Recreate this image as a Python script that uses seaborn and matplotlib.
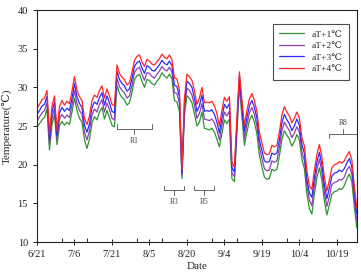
import pandas as pd
import matplotlib
matplotlib.use("Agg")
import matplotlib.pyplot as plt
import seaborn as sns

# --- data: daily temperatures, starting 6/21 ---
start_date = "2021-06-21"

t_plus1 = [24.9, 25.3, 25.8, 26.1, 27.2, 21.9, 25.2, 26.5, 22.6, 25.0,
           25.6, 25.1, 25.5, 25.2, 26.8, 28.6, 27.0, 26.0, 25.5, 23.2,
           22.1, 23.3, 25.4, 26.2, 25.8, 26.8, 27.4, 25.9, 27.0, 26.1,
           25.1, 24.9, 30.3, 29.2, 28.7, 28.4, 27.7, 28.0, 29.3, 31.0,
           31.5, 31.7, 30.8, 30.0, 31.0, 30.9, 30.5, 30.3, 30.8, 31.2,
           31.9, 31.5, 31.2, 31.7, 31.1, 28.3, 28.1, 26.9, 18.2, 26.4,
           28.9, 28.6, 28.0, 26.6, 25.0, 25.5, 26.8, 24.7, 24.6, 24.5,
           24.7, 24.2, 23.3, 22.3, 24.0, 25.8, 25.3, 25.9, 18.2, 17.8,
           24.2, 30.3, 26.2, 22.5, 24.2, 25.7, 26.4, 25.5, 24.0, 21.2,
           19.7, 18.4, 18.1, 18.2, 19.4, 19.2, 19.4, 21.1, 23.3, 24.4,
           23.8, 23.3, 22.4, 23.0, 23.9, 23.2, 20.7, 19.5, 16.2, 14.3,
           13.6, 16.2, 18.3, 19.6, 18.0, 15.3, 13.5, 14.8, 16.2, 16.5,
           16.6, 16.9, 16.8, 17.3, 18.2, 18.8, 17.8, 14.5, 11.8]

t_plus2 = [25.7, 26.2, 26.7, 27.0, 28.0, 22.6, 26.0, 27.3, 23.2, 25.9,
           26.5, 26.0, 26.4, 26.1, 27.7, 29.6, 27.9, 27.0, 26.5, 24.2,
           23.2, 24.4, 26.4, 27.2, 26.8, 27.8, 28.4, 26.8, 28.0, 27.1,
           26.0, 25.8, 31.2, 30.1, 29.6, 29.3, 28.6, 28.9, 30.2, 31.9,
           32.4, 32.6, 31.7, 30.9, 31.9, 31.8, 31.4, 31.2, 31.7, 32.1,
           32.7, 32.3, 32.1, 32.6, 32.0, 29.3, 29.2, 27.9, 18.6, 27.1,
           29.9, 29.6, 29.0, 27.7, 26.0, 26.6, 27.9, 25.9, 25.8, 25.7,
           25.9, 25.4, 24.5, 23.2, 25.1, 26.8, 26.3, 26.9, 18.9, 18.5,
           24.8, 30.9, 27.0, 23.4, 25.2, 26.7, 27.4, 26.5, 25.0, 22.3,
           20.8, 19.5, 19.2, 19.3, 20.5, 20.3, 20.5, 22.2, 24.4, 25.5,
           24.9, 24.4, 23.5, 24.1, 24.9, 24.2, 21.7, 20.5, 17.3, 15.4,
           14.7, 17.3, 19.4, 20.7, 19.1, 16.4, 14.6, 15.9, 17.4, 17.7,
           17.8, 18.1, 18.0, 18.4, 19.3, 19.8, 18.8, 15.4, 12.7]

t_plus3 = [26.5, 27.0, 27.6, 27.8, 28.8, 23.3, 26.8, 28.1, 23.8, 26.7,
           27.4, 26.9, 27.3, 27.0, 28.6, 30.5, 28.8, 27.9, 27.4, 25.1,
           24.2, 25.3, 27.4, 28.1, 27.8, 28.7, 29.3, 27.7, 28.9, 28.0,
           26.9, 26.7, 32.1, 31.0, 30.5, 30.2, 29.5, 29.8, 31.1, 32.7,
           33.2, 33.4, 32.5, 31.8, 32.8, 32.6, 32.2, 32.1, 32.5, 32.9,
           33.5, 33.1, 32.9, 33.4, 32.8, 30.3, 30.1, 28.8, 18.9, 27.8,
           30.8, 30.5, 30.0, 28.6, 26.9, 27.6, 29.0, 26.9, 27.0, 26.9,
           27.1, 26.5, 25.5, 24.1, 26.0, 27.8, 27.3, 27.9, 19.6, 19.1,
           25.4, 31.5, 27.7, 24.3, 26.1, 27.6, 28.3, 27.4, 26.0, 23.2,
           21.8, 20.5, 20.3, 20.4, 21.5, 21.3, 21.5, 23.2, 25.4, 26.5,
           25.8, 25.3, 24.4, 25.0, 25.9, 25.1, 22.6, 21.5, 18.2, 16.3,
           15.8, 18.3, 20.3, 21.6, 20.0, 17.4, 15.6, 17.0, 18.5, 18.9,
           19.0, 19.3, 19.1, 19.5, 20.2, 20.8, 19.7, 16.3, 13.6]

t_plus4 = [27.3, 27.8, 28.4, 28.6, 29.6, 24.0, 27.6, 28.9, 24.4, 27.5,
           28.3, 27.7, 28.2, 27.9, 29.5, 31.4, 29.6, 28.8, 28.3, 26.0,
           25.2, 26.3, 28.3, 29.0, 28.7, 29.6, 30.2, 28.6, 29.8, 28.9,
           27.8, 27.6, 32.9, 31.8, 31.3, 31.0, 30.3, 30.6, 31.9, 33.5,
           34.0, 34.2, 33.3, 32.7, 33.6, 33.4, 33.0, 32.9, 33.3, 33.7,
           34.3, 33.9, 33.7, 34.2, 33.6, 31.2, 31.1, 29.7, 19.3, 28.5,
           31.7, 31.4, 30.9, 29.6, 27.8, 28.6, 30.0, 28.0, 28.1, 28.0,
           28.2, 27.6, 26.6, 25.0, 27.0, 28.7, 28.2, 28.8, 20.3, 19.7,
           26.0, 32.0, 28.4, 25.1, 27.0, 28.5, 29.2, 28.3, 26.9, 24.2,
           22.8, 21.5, 21.3, 21.4, 22.5, 22.3, 22.5, 24.2, 26.4, 27.5,
           26.8, 26.3, 25.4, 26.0, 26.8, 26.0, 23.5, 22.4, 19.2, 17.3,
           16.8, 19.3, 21.3, 22.6, 21.0, 18.4, 16.6, 18.0, 19.6, 20.0,
           20.1, 20.4, 20.2, 20.5, 21.2, 21.7, 20.6, 17.2, 14.4]

series_names = ["aT+1\u2103", "aT+2\u2103", "aT+3\u2103", "aT+4\u2103"]
series_colors = ["#2e962e", "#8f3fb3", "#2a2aff", "#ff2424"]

# bracket annotations: (label, start, end, height, label below?)
regions = [("R1", "2021-07-23", "2021-08-06", 24.6, True),
           ("R3", "2021-08-11", "2021-08-19", 16.7, True),
           ("R5", "2021-08-23", "2021-08-31", 16.7, True),
           ("R8", "2021-10-16", "2021-10-27", 24.0, False)]

dates = pd.date_range(start_date, periods=len(t_plus1), freq="D")
frames = []
for name, vals in zip(series_names, [t_plus1, t_plus2, t_plus3, t_plus4]):
    frames.append(pd.DataFrame({"Date": dates, "Temp": vals, "Scenario": name}))
df = pd.concat(frames, ignore_index=True)

# --- style ---
sns.set_theme(style="ticks")
plt.rcParams["font.family"] = ["Liberation Serif", "DejaVu Serif"]
plt.rcParams["axes.linewidth"] = 0.8

fig = plt.figure(figsize=(3.61, 2.75), dpi=100)
ax = fig.add_axes([0.1025, 0.12, 0.886, 0.8436])

sns.lineplot(data=df, x="Date", y="Temp", hue="Scenario",
             palette=dict(zip(series_names, series_colors)),
             linewidth=0.9, ax=ax)

ax.set_xlim(pd.Timestamp(start_date), pd.Timestamp("2021-10-27"))
ax.set_ylim(10, 40)
ax.set_yticks([10, 15, 20, 25, 30, 35, 40])

major = pd.date_range(start_date, periods=9, freq="15D")
minor = pd.date_range(start_date, periods=13, freq="10D")
ax.set_xticks(major)
ax.set_xticks(minor, minor=True)
ax.set_xticklabels([f"{d.month}/{d.day}" for d in major])

ax.tick_params(axis="x", which="major", direction="inout", length=5, width=0.7,
               labelsize=7.5, colors="#222222")
ax.tick_params(axis="x", which="minor", direction="in", length=3, width=0.7,
               colors="#222222")
ax.tick_params(axis="y", which="major", direction="out", length=3, width=0.7,
               labelsize=7.5, colors="#222222")
for sp in ax.spines.values():
    sp.set_color("#222222")
    sp.set_visible(True)

ax.set_ylabel("Temperature(\u2103)", fontsize=8, labelpad=4)
ax.set_xlabel("Date", fontsize=8)
ax.xaxis.set_label_coords(0.5, -0.088)

# --- region brackets ---
for label, s, e, h, below in regions:
    x0, x1 = pd.Timestamp(s), pd.Timestamp(e)
    xm = x0 + (x1 - x0) / 2
    d = 0.6 if below else -0.6
    ax.plot([x0, x0, x1, x1], [h + d, h, h, h + d], color="#666666", lw=0.7)
    ax.plot([xm, xm], [h, h - d], color="#666666", lw=0.7)
    if below:
        ax.text(xm, h - d - 0.4, label, ha="center", va="top", fontsize=5.5,
                color="#444444")
    else:
        ax.text(xm, h - d + 0.3, label, ha="center", va="bottom", fontsize=5.5,
                color="#444444")

leg = ax.legend(loc="upper right", bbox_to_anchor=(0.99, 0.962), fontsize=6.8,
                frameon=True, fancybox=False, edgecolor="#222222",
                handlelength=2.6, borderpad=0.7, labelspacing=0.3)
leg.get_frame().set_linewidth(0.8)
leg.get_frame().set_facecolor("white")

plt.savefig("out.png", dpi=100)
